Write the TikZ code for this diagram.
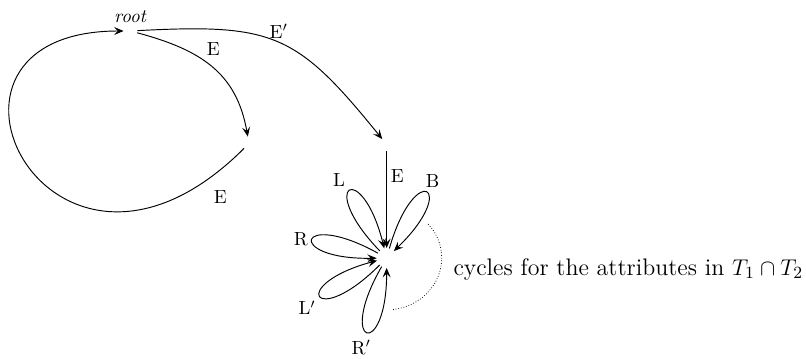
\documentclass[tikz,border=0pt]{standalone}
\usepackage{amsmath}
\usepackage{tikz}
\usetikzlibrary{arrows.meta,positioning}

\begin{document}
\begin{tikzpicture}[
  line width=0.5pt,
  vtx/.style={circle,inner sep=0pt,minimum size=2.4mm},
  hub/.style={circle,inner sep=0pt,minimum size=3.5mm},
  arr/.style={-{Stealth[length=5pt,width=4.2pt,inset=2pt]}},
  lbl/.style={inner sep=2pt},
  petal/.style={arr,min distance=1.72cm},
  note/.style={anchor=base west,inner sep=0pt,font=\fontsize{12.6}{15}\selectfont}
]
  \useasboundingbox (0,0) rectangle (14.926,6.63);
  \node[vtx,label={[inner sep=0.5pt]above:\textit{root}}](root) at (2.417,6.056) {};
  \node[vtx](A) at (4.611,3.974) {};
  \node[vtx](B) at (7.16,3.954) {};
  \node[hub](C) at (7.16,1.852) {};
  \node[note](cyc) at (8.39,1.537) {cycles for the attributes in $T_1\cap T_2$};
  \draw[arr](root) to[out=-15,in=100,looseness=1.1] node[lbl,pos=.42,above right]{E} (A);
  \draw[arr](root) to[out=3,in=129,looseness=1.3] node[lbl,pos=.5,above]{E$'$} (B);
  \draw[arr](A) .. controls +(-135:5.2) and +(180:4.35) .. node[lbl,pos=.06,below right,yshift=-1.5mm]{E} (root);
  \draw[arr](B)--node[lbl,pos=.25,right]{E}(C);
  % the five attribute cycles at the hub
  \draw[petal](C) to[out=134,in=104] node[lbl,pos=.5,above left]{L} (C);
  \draw[petal](C) to[out=74,in=44] node[lbl,pos=.5,above,xshift=1.2mm]{B} (C);
  \draw[petal](C) to[out=151,in=181] node[lbl,pos=.5,left]{R} (C);
  \draw[petal](C) to[out=225,in=195] node[lbl,pos=.5,below left]{L$'$} (C);
  \draw[petal](C) to[out=240,in=270] node[lbl,pos=.5,below=2pt,xshift=-1mm]{R$'$} (C);
  \draw[densely dotted,line width=0.4pt](C) ++(41:1.02 and 0.96) arc[start angle=41,end angle=-84,x radius=1.02,y radius=0.96];
\end{tikzpicture}
\end{document}
